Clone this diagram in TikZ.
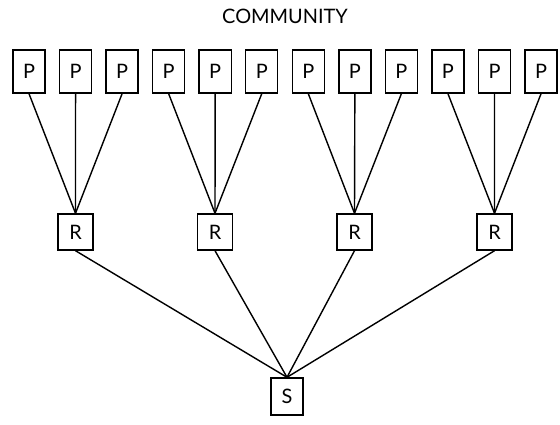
\documentclass[tikz,border=0pt]{standalone}
\usepackage{fontspec}
\setmainfont{Lato}
\usetikzlibrary{positioning}
\tikzset{
  pbox/.style={rectangle, draw, line width=1.2pt, inner sep=0pt,
               minimum width=0.96cm, minimum height=1.29cm, font=\fontsize{17}{19}\selectfont},
  rbox/.style={pbox, minimum width=1.05cm, minimum height=1.08cm},
  sbox/.style={pbox, minimum width=0.96cm, minimum height=1.11cm},
  link/.style={line width=1.2pt},
}
\begin{document}
\begin{tikzpicture}[x=0.03cm, y=-0.03cm]
  \useasboundingbox (0,0) rectangle (560,425);

  % Title
  \node[font=\fontsize{17}{19}\selectfont] (title) at (285,16) {COMMUNITY};

  % Top row
  \foreach \i in {1,...,12}
    \node[pbox] (p\i) at ({29+46.55*(\i-1)},71.5) {P};

  % Middle row
  \foreach \j/\x in {1/75.5, 2/215, 3/354.5, 4/494.5}
    \node[rbox] (r\j) at (\x,232) {R};

  % Bottom
  \node[sbox] (s) at (287,396.5) {S};

  % Links P -> R
  \foreach \j in {1,...,4}
    \foreach \k in {1,2,3}
      \pgfmathtruncatemacro{\n}{3*(\j-1)+\k}
      \draw[link] (p\n.south) -- (r\j.north);

  % Links R -> S
  \foreach \j in {1,...,4}
    \draw[link] (r\j.south) -- (s.north);
\end{tikzpicture}
\end{document}
